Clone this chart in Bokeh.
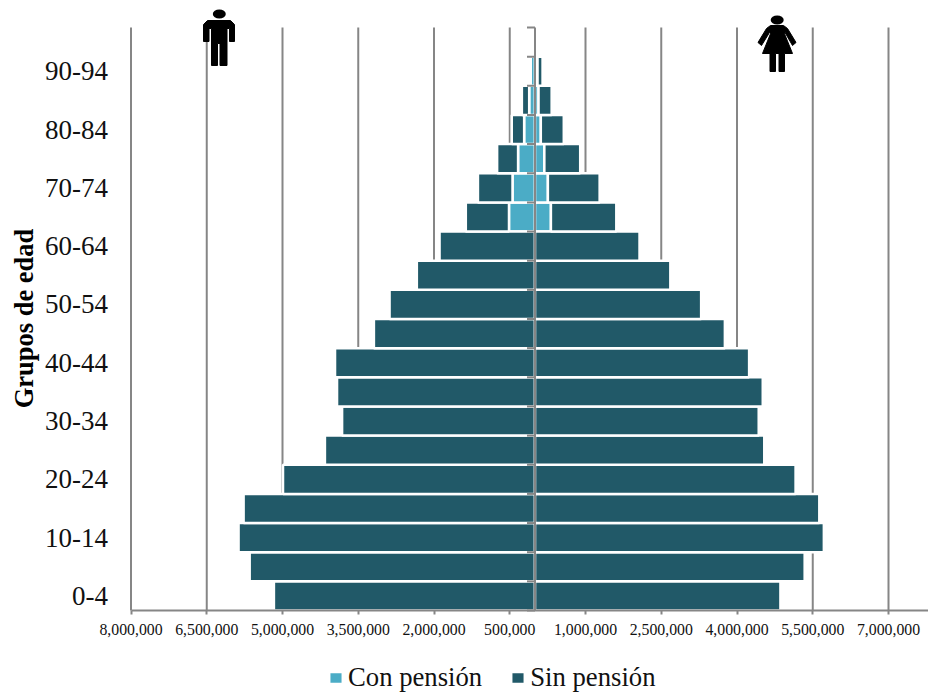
import numpy as np
from bokeh.plotting import figure
from bokeh.models import Range1d, FixedTicker, Legend, LegendItem
from bokeh.core.properties import value
from bokeh.embed import file_html
from bokeh.resources import INLINE

grupos = ["0-4","5-9","10-14","15-19","20-24","25-29","30-34","35-39","40-44","45-49",
          "50-54","55-59","60-64","65-69","70-74","75-79","80-84","85-89","90-94","95-99"]
# values in millions of people
hombres_con = [0,0,0,0,0,0,0,0,0,0,0,0,0,0.515,0.445,0.335,0.215,0.115,0.085,0]
hombres_sin = [5.17,5.65,5.87,5.77,4.99,4.16,3.82,3.92,3.96,3.19,2.88,2.34,1.89,0.855,0.685,0.415,0.245,0.145,0,0]
mujeres_con = [0,0,0,0,0,0,0,0,0,0,0,0,0,0.315,0.255,0.185,0.115,0.07,0.05,0]
mujeres_sin = [4.86,5.34,5.72,5.63,5.16,4.54,4.43,4.51,4.24,3.76,3.29,2.68,2.07,1.295,1.025,0.71,0.455,0.26,0.10,0]
x_ticks = [-8,-6.5,-5,-3.5,-2,-0.5,1,2.5,4,5.5,7]
x_labels = ["8,000,000","6,500,000","5,000,000","3,500,000","2,000,000","500,000",
            "1,000,000","2,500,000","4,000,000","5,500,000","7,000,000"]
y_title = "Grupos de edad"

PX_X, PX_Y = 50.5, 29.15
GRAY, LIGHT, DARK = "#868686", "#4BACC6", "#215968"
FONT = "Liberation Serif"
n = len(grupos)
idx = np.arange(n) + 0.5

def dx(v): return (np.asarray(v, float) - 534.5) / PX_X
def dy(v): return (610 - np.asarray(v, float)) / PX_Y

p = figure(width=928, height=692, output_backend="svg", toolbar_location=None,
           x_range=Range1d(float(dx(0)), float(dx(928))), y_range=Range1d(float(dy(692)), float(dy(0))),
           min_border_left=0, min_border_right=0, min_border_top=0, min_border_bottom=0,
           x_axis_location="below", outline_line_color=None)
p.grid.visible = False
p.background_fill_color = "white"

# gridlines up to the top band only
p.segment(x0=x_ticks, x1=x_ticks, y0=0, y1=n, line_color=GRAY, line_width=2)

hc, hs, mc, ms = map(np.array, (hombres_con, hombres_sin, mujeres_con, mujeres_sin))
bar = dict(height=1.0, line_color="white", line_width=2.5)
p.hbar(y=idx, left=-hc, right=0, fill_color=LIGHT, **bar)
r_con = p.hbar(y=idx, left=0, right=mc, fill_color=LIGHT, **bar)
r_sin = p.hbar(y=idx, left=-(hc + hs), right=-hc, fill_color=DARK, **bar)
p.hbar(y=idx, left=mc, right=mc + ms, fill_color=DARK, **bar)

# central category axis with its ticks
p.segment(x0=[0], x1=[0], y0=[0], y1=[n], line_color=GRAY, line_width=2)
edges = np.arange(n + 1)
p.segment(x0=-8 / PX_X, x1=0, y0=edges, y1=edges, line_color=GRAY, line_width=2)

# icons, drawn from page-pixel outlines
man = [(207,20),(230,20),(234,24),(234,41),(229,41),(229,28),(226.5,28),(226.5,65),(219.5,65),
       (219.5,43),(217,43),(217,65),(211,65),(211,28),(208.5,28),(208.5,41),(203,41),(203,24)]
woman = [(770,25),(783,25),(787,28),(795.5,42),(792,45),(784.5,32),(783.5,32),(792,53),(784,53),
         (784,71),(778.5,71),(778.5,53),(775,53),(775,71),(769.5,71),(769.5,53),(762,53),(770.5,32),
         (769,32),(761,45),(757.5,42),(766,28)]
for shape, head in ((man, (218.8, 13.5)), (woman, (776.7, 19.5))):
    xs, ys = zip(*shape)
    p.patch(dx(xs), dy(ys), fill_color="black", line_color="black", line_width=1, line_join="round")
    p.ellipse(x=[float(dx(head[0]))], y=[float(dy(head[1]))], width=13 / PX_X, height=9 / PX_Y,
              fill_color="black", line_color=None)

# axis title as rotated text
p.text(x=[float(dx(23))], y=[float(dy(318))], text=[y_title], angle=np.pi / 2,
       text_align="center", text_baseline="middle", text_font=value(FONT),
       text_font_style="bold", text_font_size="26.5px", text_color="black")

# axes
ax = p.xaxis[0]
ax.fixed_location = 0
ax.ticker = FixedTicker(ticks=x_ticks)
ax.major_label_overrides = dict(zip(x_ticks, x_labels))
ax.bounds = (-8, 7.8)
ax.axis_line_color = GRAY
ax.axis_line_width = 2
ax.major_tick_line_color = GRAY
ax.major_tick_line_width = 2
ax.major_tick_in = 0
ax.major_tick_out = 4
ax.minor_tick_line_color = None
ax.major_label_standoff = 9
ax.major_label_text_font = FONT
ax.major_label_text_font_size = "15.8px"
ax.major_label_text_color = "#111111"

ay = p.yaxis[0]
ay.fixed_location = -8
tick_y = list(idx[::2])
ay.ticker = FixedTicker(ticks=tick_y)
ay.major_label_overrides = dict(zip(tick_y, grupos[::2]))
ay.bounds = (0, n)
ay.axis_line_color = None
ay.major_tick_line_color = None
ay.minor_tick_line_color = None
ay.major_tick_out = 0
ay.major_tick_in = 0
ay.minor_tick_out = 0
ay.minor_tick_in = 0
ay.major_label_standoff = 23
ay.major_label_text_font = FONT
ay.major_label_text_font_size = "27px"
ay.major_label_text_color = "#111111"

legend = Legend(items=[LegendItem(label="Con pensión", renderers=[r_con]),
                       LegendItem(label="Sin pensión", renderers=[r_sin])],
                location=(327, -1), orientation="horizontal",
                background_fill_alpha=0, border_line_color=None,
                label_text_font=FONT, label_text_font_size="26.7px", label_text_color="#111111",
                glyph_width=17, glyph_height=15, label_standoff=4, spacing=27,
                padding=0, margin=0)
p.add_layout(legend, "center")

open("out.html", "w").write(file_html(p, INLINE))
